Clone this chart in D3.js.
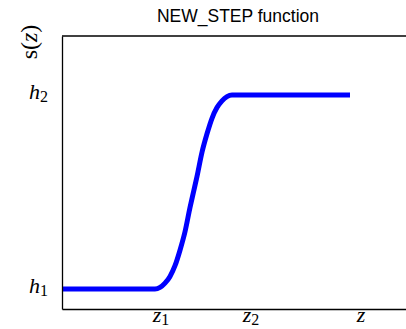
<!DOCTYPE html>
<html>
<head>
<meta charset="utf-8">
<script src="https://cdn.jsdelivr.net/npm/d3@7"></script>
<style>
  body { margin: 0; background: #fff; }
  svg { display: block; }
</style>
</head>
<body>
<div id="chart"></div>
<script>
var width = 406, height = 329;

// curve (z in chart units, s normalised h1=0 .. h2=1)
var zVals = [0, 9.3, 9.8, 10.3, 10.8, 11.3, 11.8, 12.3, 12.8, 13.15, 13.5, 14.0, 14.5, 15.0, 15.5, 16.0, 16.5, 17.0, 28.8];
var sVals = [0, 0, 0.008, 0.03, 0.065, 0.12, 0.2, 0.295, 0.42, 0.5, 0.58, 0.705, 0.8, 0.88, 0.935, 0.97, 0.992, 1, 1];

var xTickVals = [9.9, 18.9, 29.9];
var xTickLabels = [["z", "1"], ["z", "2"], ["z", ""]];
var yTickVals = [0, 1];
var yTickLabels = [["h", "1"], ["h", "2"]];

var svg = d3.select("#chart").append("svg").attr("width", width).attr("height", height);

var x = d3.scaleLinear().domain([0, 35]).range([62, 412]);
var y = d3.scaleLinear().domain([-0.103, 1.304]).range([309, 36]);

var data = zVals.map(function(z, i) { return {z: z, s: sVals[i]}; });

// title
svg.append("text").attr("x", 238).attr("y", 22).attr("text-anchor", "middle")
   .style("font-family", "Liberation Sans, Arial, sans-serif").style("font-size", "17.5px")
   .text("NEW_STEP function");

// y label
var yl = svg.append("text").attr("transform", "translate(37,42) rotate(-90)")
   .attr("text-anchor", "middle")
   .style("font-family", "Liberation Serif, serif").style("font-size", "24px");
yl.append("tspan").text("s(");
yl.append("tspan").style("font-style", "italic").text("z");
yl.append("tspan").text(")");

// curve
var line = d3.line().x(function(d) { return x(d.z); }).y(function(d) { return y(d.s); }).curve(d3.curveMonotoneX);
svg.append("path").datum(data).attr("d", line)
   .attr("fill", "none").attr("stroke", "#0000ff").attr("stroke-width", 5)
   .attr("stroke-linejoin", "round");

// axes (no tick marks, math-style labels)
var xAxis = svg.append("g").attr("transform", "translate(0,309)")
   .call(d3.axisBottom(x).tickValues(xTickVals).tickSize(0).tickFormat(""));
var yAxis = svg.append("g").attr("transform", "translate(62,0)")
   .call(d3.axisLeft(y).tickValues(yTickVals).tickSize(0).tickFormat(""));
[xAxis, yAxis].forEach(function(g) {
  g.select(".domain").attr("stroke", "#000").attr("stroke-width", 1.3);
});

// top spine
svg.append("line").attr("x1", 62).attr("x2", 412).attr("y1", 36).attr("y2", 36)
   .attr("stroke", "#000").attr("stroke-width", 1.3);

function mathLabel(sel, parts) {
  sel.style("font-family", "Liberation Serif, serif").style("font-size", "22px");
  sel.append("tspan").style("font-style", "italic").text(parts[0]);
  if (parts[1]) sel.append("tspan").attr("dy", 3).style("font-size", "16px").text(parts[1]);
}

xTickVals.forEach(function(v, i) {
  var t = svg.append("text").attr("x", x(v)).attr("y", 322).attr("text-anchor", "middle");
  mathLabel(t, xTickLabels[i]);
});
yTickVals.forEach(function(v, i) {
  var t = svg.append("text").attr("x", 48).attr("y", y(v) + 4).attr("text-anchor", "end");
  mathLabel(t, yTickLabels[i]);
});
</script>
</body>
</html>
